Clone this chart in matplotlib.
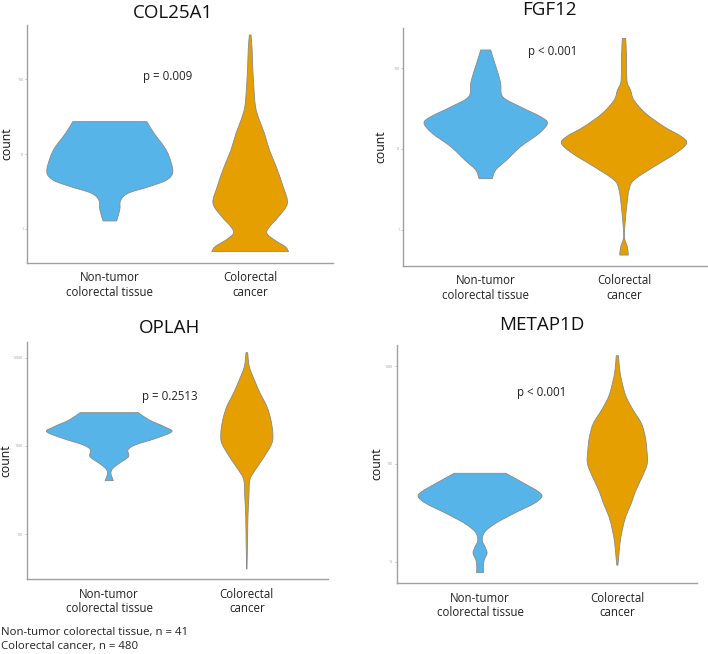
import matplotlib.pyplot as plt
import numpy as np
from matplotlib.path import Path
from matplotlib.patches import PathPatch

plt.rcParams['font.family'] = ['Open Sans', 'DejaVu Sans']

groups = ["Non-tumor\ncolorectal tissue", "Colorectal\ncancer"]
genes = ["COL25A1", "FGF12", "OPLAH", "METAP1D"]
p_values = ["p = 0.009", "p < 0.001", "p = 0.2513", "p < 0.001"]
n_normal = 41
n_cancer = 480

# violin outlines: count level (log axis) and half width
col25a1_normal_y = [27.0, 18.9, 12.5, 9.2, 5.8, 4.5, 3.7, 3.0, 2.4, 1.8, 1.28]
col25a1_normal_w = [0.264, 0.315, 0.387, 0.423, 0.449, 0.405, 0.286, 0.131, 0.077, 0.071, 0.048]
col25a1_cancer_y = [386, 244, 146, 79, 42.7, 28.4, 18.9, 11.3, 6.8, 3.66, 2.20, 1.46, 1.07, 0.875, 0.713, 0.581, 0.499]
col25a1_cancer_w = [0.006, 0.014, 0.018, 0.026, 0.038, 0.065, 0.101, 0.137, 0.185, 0.235, 0.265, 0.202, 0.137, 0.119, 0.173, 0.25, 0.274]

fgf12_normal_y = [167, 126, 86, 65, 44, 33, 25, 20.8, 15.6, 10.7, 7.3, 5.5, 4.3]
fgf12_normal_w = [0.036, 0.058, 0.089, 0.108, 0.124, 0.253, 0.398, 0.446, 0.386, 0.253, 0.151, 0.072, 0.048]
fgf12_cancer_y = [232, 152, 86, 65, 53, 40, 27.5, 18.9, 14.2, 11.7, 8.85, 6.05, 4.14, 3.12, 1.94, 1.33, 0.83, 0.62, 0.49]
fgf12_cancer_w = [0.012, 0.017, 0.019, 0.024, 0.048, 0.072, 0.157, 0.289, 0.416, 0.452, 0.374, 0.217, 0.072, 0.036, 0.019, 0.010, 0.002, 0.024, 0.031]

oplah_normal_y = [2390, 1975, 1657, 1454, 1223, 1026, 901, 757, 636, 558, 490, 404]
oplah_normal_w = [0.212, 0.291, 0.400, 0.455, 0.340, 0.188, 0.136, 0.140, 0.073, 0.027, 0.012, 0.030]
oplah_cancer_y = [11500, 7980, 5620, 3970, 2800, 1975, 1393, 1074, 757, 534, 411, 266, 157, 78, 40]
oplah_cancer_w = [0.006, 0.018, 0.055, 0.097, 0.146, 0.175, 0.189, 0.182, 0.127, 0.061, 0.022, 0.015, 0.008, 0.005, 0.001]

metap1d_normal_y = [80, 63, 51.9, 46.1, 39.4, 31.2, 24.7, 20.2, 16.6, 14.2, 12.2, 10.4, 8.9, 7.7]
metap1d_normal_w = [0.188, 0.322, 0.425, 0.450, 0.395, 0.249, 0.115, 0.036, 0.016, 0.036, 0.051, 0.030, 0.024, 0.025]
metap1d_cancer_y = [1274, 910, 665, 485, 355, 259, 189, 138, 101, 74, 54, 39, 28.8, 21, 15.4, 11.2, 9.2]
metap1d_cancer_w = [0.0085, 0.017, 0.036, 0.064, 0.115, 0.175, 0.203, 0.215, 0.218, 0.182, 0.136, 0.100, 0.061, 0.036, 0.019, 0.010, 0.004]

y_ticks = [[1, 10, 100], [1, 10, 100], [100, 1000, 10000], [10, 100, 1000]]
y_limits = [(0.352, 525), (0.362, 312), (30.6, 15300), (6.0, 1641)]

violins = [
    [(col25a1_normal_y, col25a1_normal_w), (col25a1_cancer_y, col25a1_cancer_w)],
    [(fgf12_normal_y, fgf12_normal_w), (fgf12_cancer_y, fgf12_cancer_w)],
    [(oplah_normal_y, oplah_normal_w), (oplah_cancer_y, oplah_cancer_w)],
    [(metap1d_normal_y, metap1d_normal_w), (metap1d_cancer_y, metap1d_cancer_w)],
]

colors = ["#56B4E9", "#E69F00"]
W, H = 708, 654

# axes boxes in pixels: left, right, top, bottom
boxes = [(27, 333, 25, 263), (403, 707, 28, 265.7),
         (26.7, 328, 341.7, 579.3), (396.7, 697, 345, 583.3)]
xlims = [(-0.59, 1.59), (-0.598, 1.6), (-0.60, 1.59), (-0.607, 1.58)]
p_pos = [(0.461, 0.782), (0.493, 0.900), (0.474, 0.771), (0.484, 0.799)]
title_pos = [(173, 13), (549, 10), (170, 328), (542, 325)]
ylabel_x = [-0.045, -0.05, -0.046, -0.045]


def side_curve(xs, ls):
    # smooth (catmull-rom) bezier through the outline points of one side
    pts = np.column_stack([xs, ls])
    ext = np.vstack([pts[0], pts, pts[-1]])
    verts = []
    for k in range(len(pts) - 1):
        p0, p1, p2, p3 = ext[k], ext[k + 1], ext[k + 2], ext[k + 3]
        verts += [p1 + (p2 - p0) / 6, p2 - (p3 - p1) / 6, p2]
    return verts


def violin_path(pos, ys, ws):
    ls = np.log10(ys)
    ws = np.asarray(ws)
    right = side_curve(pos + ws, ls)
    left = side_curve((pos - ws)[::-1], ls[::-1])
    verts = [np.array([pos - ws[0], ls[0]]), np.array([pos + ws[0], ls[0]])]
    codes = [Path.MOVETO, Path.LINETO]
    verts += right
    codes += [Path.CURVE4] * len(right)
    verts.append(np.array([pos - ws[-1], ls[-1]]))
    codes.append(Path.LINETO)
    verts += left
    codes += [Path.CURVE4] * len(left)
    verts.append(verts[0])
    codes.append(Path.CLOSEPOLY)
    v = np.array(verts)
    v[:, 1] = 10 ** v[:, 1]
    return Path(v, codes)


fig = plt.figure(figsize=(W / 100, H / 100), dpi=100)

for i in range(4):
    l, r, t, b = boxes[i]
    ax = fig.add_axes([l / W, (H - b) / H, (r - l) / W, (b - t) / H])
    ax.set_yscale("log")
    for j, (ys, ws) in enumerate(violins[i]):
        ax.add_patch(PathPatch(violin_path(j, ys, ws), facecolor=colors[j],
                               edgecolor="#8a8a8a", linewidth=0.6))
    ax.set_xlim(*xlims[i])
    ax.set_ylim(*y_limits[i])
    ax.set_yticks(y_ticks[i])
    ax.set_yticklabels([str(v) for v in y_ticks[i]], fontsize=2.5, color="#999999")
    ax.yaxis.set_minor_locator(plt.NullLocator())
    ax.tick_params(axis="y", length=1.5, width=0.5, color="#aaaaaa", pad=1)
    ax.set_xticks([0, 1])
    ax.set_xticklabels(groups, fontsize=8.3, color="#222222", linespacing=1.15)
    ax.tick_params(axis="x", length=0, pad=6)
    for s in ["top", "right"]:
        ax.spines[s].set_visible(False)
    for s in ["left", "bottom"]:
        ax.spines[s].set_color("#a0a0a0")
        ax.spines[s].set_linewidth(1.0)
    ax.set_ylabel("count", fontsize=8.8, color="#111111")
    ax.yaxis.set_label_coords(ylabel_x[i], 0.5)
    ax.text(p_pos[i][0], p_pos[i][1], p_values[i], transform=ax.transAxes,
            ha="center", va="center", fontsize=8.3, color="#222222")
    tx, ty = title_pos[i]
    fig.text(tx / W, 1 - ty / H, genes[i], ha="center", va="center", fontsize=13.5, color="#111111")

fig.text(1 / W, 1 - 632 / H, f"Non-tumor colorectal tissue, n = {n_normal}",
         ha="left", va="center", fontsize=8.2, color="#222222")
fig.text(1 / W, 1 - 647 / H, f"Colorectal cancer, n = {n_cancer}",
         ha="left", va="center", fontsize=8.2, color="#222222")

fig.savefig("out.png", dpi=100)
